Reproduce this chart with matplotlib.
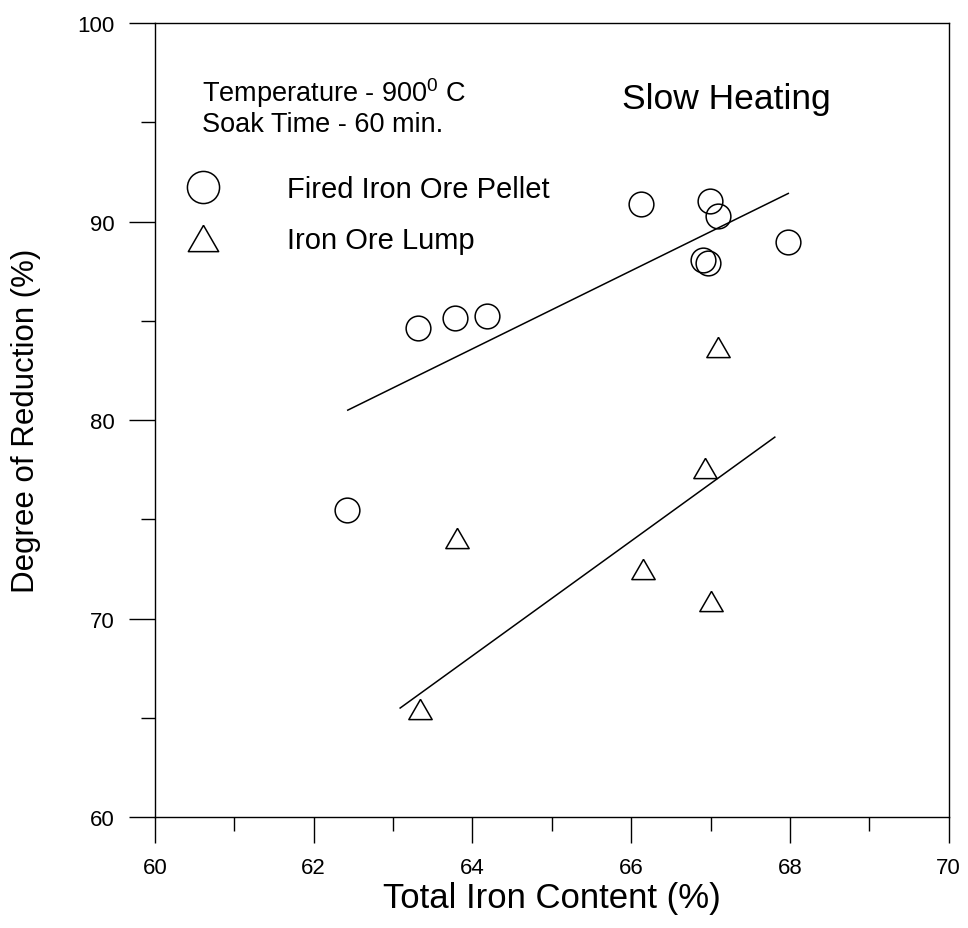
import numpy as np
import matplotlib.pyplot as plt
from matplotlib.ticker import MultipleLocator

plt.rcParams['font.family'] = ['Liberation Sans', 'DejaVu Sans']
plt.rcParams['mathtext.fontset'] = 'custom'
plt.rcParams['mathtext.rm'] = 'Liberation Sans'

# Fired iron ore pellet
pellet_fe = [63.32, 63.78, 64.18, 62.42, 66.13, 66.99, 67.09, 67.97, 66.91, 66.97]
pellet_red = [84.65, 85.14, 85.25, 75.48, 90.87, 91.05, 90.28, 88.97, 88.08, 87.89]

# Iron ore lump
lump_fe = [67.10, 66.93, 66.15, 67.00, 63.80, 63.34]
lump_red = [83.69, 77.57, 72.48, 70.86, 74.06, 65.46]

# fitted lines (end points)
pellet_fit_x = [62.43, 67.98]
pellet_fit_y = [80.50, 91.42]
lump_fit_x = [63.09, 67.81]
lump_fit_y = [65.49, 79.14]

# equilateral triangle marker
tri = [(0, 0.866), (-1, -0.866), (1, -0.866), (0, 0.866)]

fig = plt.figure(figsize=(9.68, 9.29), dpi=100)
ax = fig.add_axes([0.160, 0.1195, 0.820, 0.8545])

ax.plot(pellet_fe, pellet_red, 'o', ms=17.8, mfc='none', mec='black', mew=1.1,
        label='Fired Iron Ore Pellet')
ax.plot(lump_fe, lump_red, ls='none', marker=tri, ms=16.8, mfc='none', mec='black',
        mew=1.1, label='Iron Ore Lump')
ax.plot(pellet_fit_x, pellet_fit_y, color='black', lw=1.1)
ax.plot(lump_fit_x, lump_fit_y, color='black', lw=1.1)

ax.set_xlim(60, 70)
ax.set_ylim(60, 100)
ax.xaxis.set_major_locator(MultipleLocator(2))
ax.xaxis.set_minor_locator(MultipleLocator(1))
ax.yaxis.set_major_locator(MultipleLocator(10))
ax.yaxis.set_minor_locator(MultipleLocator(5))
ax.tick_params(which='major', direction='out', length=19, width=1, labelsize=16, pad=10)
ax.tick_params(which='minor', direction='out', length=10, width=1)
for s in ax.spines.values():
    s.set_linewidth(1)

ax.set_xlabel('Total Iron Content (%)', fontsize=25, labelpad=2)
ax.set_ylabel('Degree of Reduction (%)', fontsize=22.5, labelpad=26)

ax.text(0.0588, 0.9014, 'Temperature - 900$^{\\mathrm{0}}$ C',
        transform=ax.transAxes, fontsize=19.5, va='baseline', ha='left')
ax.text(0.0588, 0.864, 'Soak Time - 60 min.',
        transform=ax.transAxes, fontsize=19.5, va='baseline', ha='left')
ax.text(0.589, 0.893, 'Slow Heating', transform=ax.transAxes, fontsize=25.5,
        va='baseline', ha='left')

ax.legend(loc='upper left', bbox_to_anchor=(0.0, 0.842), frameon=False,
          markerscale=1.3, fontsize=21, handlelength=1.52, handletextpad=2.12,
          labelspacing=0.8, borderaxespad=0.5)

fig.savefig('out.png', dpi=100)
